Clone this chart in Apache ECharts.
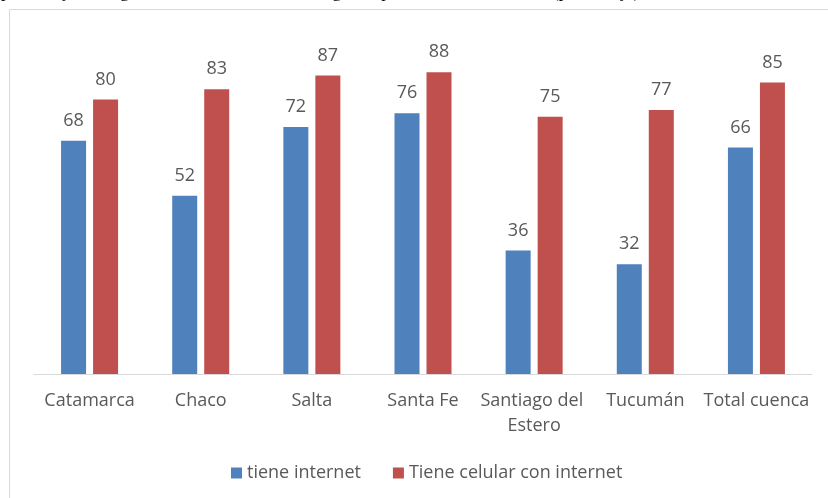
<!DOCTYPE html>
<html>
<head>
<meta charset="utf-8">
<script src="https://cdn.jsdelivr.net/npm/echarts@6/dist/echarts.min.js"></script>
<style>
  html, body { margin: 0; padding: 0; background: #ffffff; }
  #chart { width: 828px; height: 498px; }
</style>
</head>
<body>
<div id="chart"></div>
<script>
// Provinces of the basin plus the basin total
const categories = ['Catamarca', 'Chaco', 'Salta', 'Santa Fe', 'Santiago del Estero', 'Tucumán', 'Total cuenca'];
// Households with internet access (%)
const tieneInternet = [68, 52, 72, 76, 36, 32, 66];
// Households with a mobile phone with internet (%)
const celularInternet = [80, 83, 87, 88, 75, 77, 85];
const seriesNames = ['tiene internet', 'Tiene celular con internet'];
const headingText = 'porcentaje de hogares con acceso a internet según la provincia de residencia (porcentaje)';

const textColor = '#595959';
const baseFont = '"Open Sans", "Noto Sans", sans-serif';

const chart = echarts.init(document.getElementById('chart'), null, { renderer: 'canvas' });

const labelStyle = {
  show: true,
  position: 'top',
  distance: 11,
  color: textColor,
  fontSize: 18,
  fontFamily: baseFont
};

chart.setOption({
  animation: false,
  backgroundColor: '#ffffff',
  graphic: [
    {
      type: 'rect',
      shape: { x: 9.5, y: 9.5, width: 900, height: 600 },
      style: { fill: 'none', stroke: '#d9d9d9', lineWidth: 1 },
      silent: true
    },
    {
      type: 'text',
      left: 1,
      top: -17,
      style: {
        text: headingText,
        font: '18px "Liberation Serif", "DejaVu Serif", serif',
        fill: '#000000'
      },
      silent: true
    }
  ],
  grid: { left: 34, right: 16, top: 31, bottom: 124, containLabel: false },
  legend: {
    data: seriesNames,
    left: 226,
    top: 459,
    itemWidth: 11,
    itemHeight: 11,
    itemGap: 32,
    icon: 'rect',
    textStyle: { color: textColor, fontSize: 18, fontFamily: baseFont }
  },
  xAxis: {
    type: 'category',
    data: categories,
    axisLine: { show: true, lineStyle: { color: '#d9d9d9', width: 1 } },
    axisTick: { show: false },
    axisLabel: {
      interval: 0,
      color: textColor,
      fontSize: 18,
      fontFamily: baseFont,
      margin: 14,
      lineHeight: 25,
      width: 108,
      overflow: 'break'
    }
  },
  yAxis: {
    type: 'value',
    min: 0,
    max: 100,
    show: false,
    splitLine: { show: false }
  },
  series: [
    {
      name: seriesNames[0],
      type: 'bar',
      data: tieneInternet,
      barWidth: 25,
      barGap: '28%',
      itemStyle: { color: '#4f81bd' },
      label: labelStyle
    },
    {
      name: seriesNames[1],
      type: 'bar',
      data: celularInternet,
      barWidth: 25,
      itemStyle: { color: '#c0504d' },
      label: labelStyle
    }
  ]
});
</script>
</body>
</html>
